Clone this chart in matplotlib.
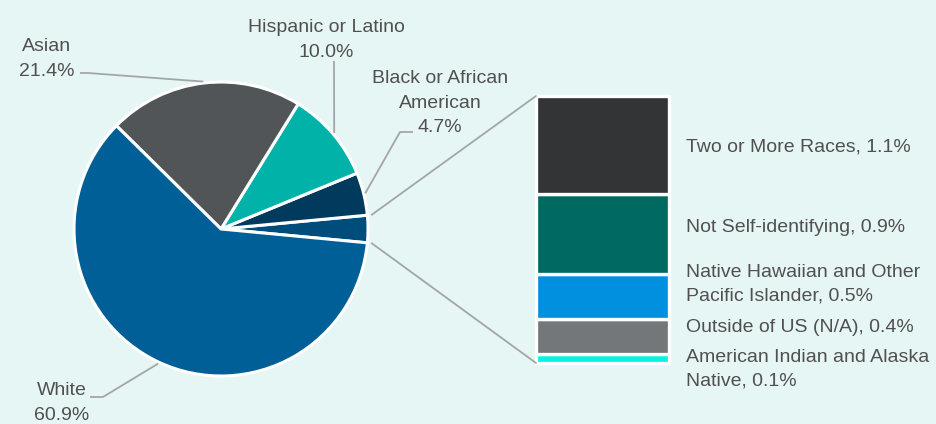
"""Workforce race/ethnicity breakdown - pie with bar-of-pie detail."""
import numpy as np
import matplotlib
matplotlib.use('Agg')
import matplotlib.pyplot as plt
from matplotlib.patches import ConnectionPatch

# ── Data ──────────────────────────────────────────────────────────────────────
pie_labels = ['White', 'Asian', 'Hispanic or Latino', 'Black or African\nAmerican']
pie_values = [60.9, 21.4, 10.0, 4.7]
pie_colors = ['#005f96', '#525558', '#00b2a8', '#003a5c']
other_color = '#004d7c'

bar_labels = ['Two or More Races', 'Not Self-identifying',
              'Native Hawaiian and Other\nPacific Islander',
              'Outside of US (N/A)', 'American Indian and Alaska\nNative']
bar_values = [1.1, 0.9, 0.5, 0.4, 0.1]
bar_colors = ['#333436', '#006a60', '#0090e0', '#737779', '#00f3e4']

# ── Layout (pixels) ───────────────────────────────────────────────────────────
W, H = 937, 424
BG = '#e6f6f5'
TXT = '#505050'
LINE = '#a3a6a6'
cx, cy, R = 221, 229, 147
FONT = 'Liberation Sans'
FS = 14

fig = plt.figure(figsize=(W / 100, H / 100), dpi=100)
fig.patch.set_facecolor(BG)

# pie axes
lim = 1.02
pw = 2 * lim * R
ax_pie = fig.add_axes([(cx - pw / 2) / W, (H - cy - pw / 2) / H, pw / W, pw / H])
other_total = sum(bar_values)
wedge_vals = [other_total] + pie_values[::-1]
wedge_cols = [other_color] + pie_colors[::-1]
start = -other_total / 100 * 360 / 2
wedges, _ = ax_pie.pie(wedge_vals, colors=wedge_cols, startangle=start,
                       counterclock=True, radius=1,
                       wedgeprops=dict(edgecolor='white', linewidth=2.2))
ax_pie.set_xlim(-lim, lim); ax_pie.set_ylim(-lim, lim)
ax_pie.set_aspect('equal'); ax_pie.axis('off')
for w in wedges:
    w.set_clip_on(False)

# bar axes
bx0, bx1, by0, by1 = 536, 669, 96, 363
ax_bar = fig.add_axes([bx0 / W, (H - by1) / H, (bx1 - bx0) / W, (by1 - by0) / H])
bottom = 0
for v, c in zip(bar_values[::-1], bar_colors[::-1]):
    ax_bar.bar(0, v, width=1, bottom=bottom, color=c, edgecolor='white', linewidth=2.4,
               clip_on=False)
    bottom += v
ax_bar.set_xlim(-0.5, 0.5); ax_bar.set_ylim(0, other_total)
ax_bar.axis('off')

# connectors pie -> bar
half = np.deg2rad(other_total / 100 * 360 / 2)
for sgn, yb in [(1, other_total), (-1, 0)]:
    con = ConnectionPatch(xyA=(1.03 * np.cos(half), sgn * 1.03 * np.sin(half)), coordsA=ax_pie.transData,
                          xyB=(-0.5, yb), coordsB=ax_bar.transData,
                          color=LINE, lw=1.3)
    fig.add_artist(con)

# overlay in pixel coords for text and leader lines
ax = fig.add_axes([0, 0, 1, 1])
ax.set_xlim(0, W); ax.set_ylim(H, 0)
ax.axis('off'); ax.patch.set_alpha(0)

def pie_px(ang_deg, r=1.01):
    a = np.deg2rad(ang_deg)
    return cx + R * r * np.cos(a), cy - R * r * np.sin(a)

# mid angles of the main wedges
mids = {}
for w, lab in zip(wedges[1:], pie_labels[::-1]):
    mids[lab] = (w.theta1 + w.theta2) / 2

label_pos = {
    'White': (62, 403),
    'Asian': (47, 59),
    'Hispanic or Latino': (326, 40),
    'Black or African\nAmerican': (440, 103),
}
leader_pts = {
    'White': [(90, 397), (103, 397)],
    'Asian': [(80, 73), (88, 73)],
    'Hispanic or Latino': [(334, 61)],
    'Black or African\nAmerican': [(413, 132), (400, 132)],
}
for lab, v in zip(pie_labels, pie_values):
    x, y = label_pos[lab]
    ax.text(x, y, f'{lab}\n{v:.1f}%', ha='center', va='center', color=TXT,
            fontsize=FS, family=FONT, linespacing=1.6)
    pts = leader_pts[lab] + [pie_px(mids[lab])]
    xs, ys = zip(*pts)
    ax.plot(xs, ys, color=LINE, lw=1.3, solid_capstyle='butt')

bar_text_y = [147, 228, 284, 328, 369]
for lab, v, y in zip(bar_labels, bar_values, bar_text_y):
    ax.text(686, y, f'{lab}, {v:.1f}%', ha='left', va='center', color=TXT,
            fontsize=FS, family=FONT, linespacing=1.5)

fig.savefig('out.png', dpi=100, facecolor=BG)
